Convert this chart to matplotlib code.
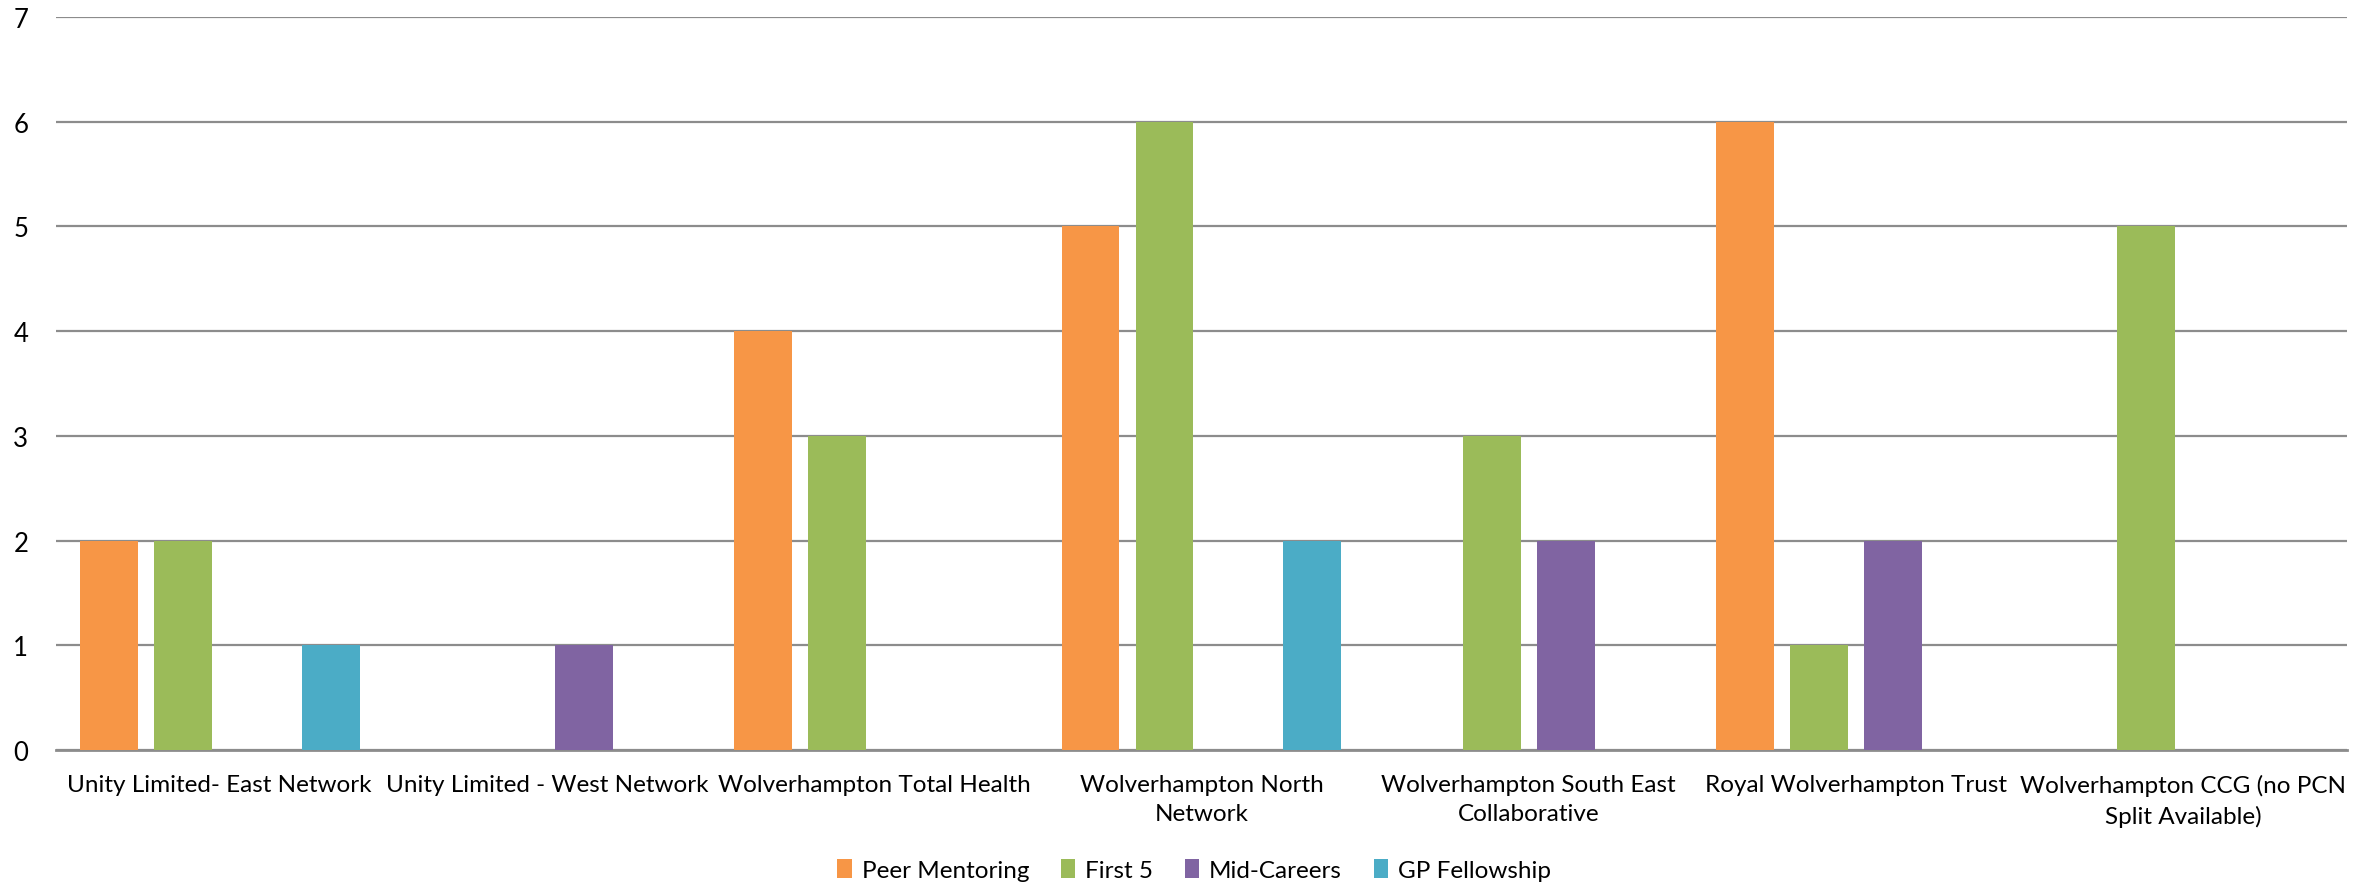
import numpy as np
import matplotlib
matplotlib.use("Agg")
import matplotlib.pyplot as plt

plt.rcParams['font.family'] = ['Lato', 'DejaVu Sans']

categories = [
    "Unity Limited- East Network",
    "Unity Limited - West Network",
    "Wolverhampton Total Health",
    "Wolverhampton North\nNetwork",
    "Wolverhampton South East\nCollaborative",
    "Royal Wolverhampton Trust",
    "Wolverhampton CCG (no PCN\nSplit Available)",
]
series_names = ["Peer Mentoring", "First 5", "Mid-Careers", "GP Fellowship"]
peer_mentoring = [2, 0, 4, 5, 0, 6, 0]
first_5 = [2, 0, 3, 6, 3, 1, 5]
mid_careers = [0, 1, 0, 0, 2, 2, 0]
gp_fellowship = [1, 0, 0, 2, 0, 0, 0]
colors = ["#F79646", "#9BBB59", "#8064A2", "#4BACC6"]

values = [peer_mentoring, first_5, mid_careers, gp_fellowship]

fig = plt.figure(figsize=(23.74, 8.87), dpi=100)
ax = fig.add_axes([0.0236, 0.153, 0.965, 0.827])

x = np.arange(len(categories))
bw = 0.177
step = 0.226
for i, (name, vals, c) in enumerate(zip(series_names, values, colors)):
    ax.bar(x + (i - 1.5) * step, vals, width=bw, color=c, label=name, zorder=3)

ax.set_xlim(-0.5, len(categories) - 0.5)
ax.set_ylim(0, 7)
ax.set_yticks(range(0, 8))
ax.yaxis.grid(True, color="#8C8C8C", linewidth=1.6, zorder=0)
ax.set_axisbelow(True)
for s in ["top", "right", "left"]:
    ax.spines[s].set_visible(False)
ax.spines["bottom"].set_color("#8C8C8C")
ax.spines["bottom"].set_linewidth(2)

ax.set_xticks(x)
ax.set_xticklabels(categories, fontsize=17.5, linespacing=1.5)
ax.tick_params(axis="x", length=0, pad=17)
ax.tick_params(axis="y", length=0, pad=20, labelsize=18.5)

fig.legend(loc="center", ncol=4, frameon=False, fontsize=17.5,
           bbox_to_anchor=(0.503, 0.018), handlelength=0.6, handleheight=0.8,
           handletextpad=0.4, columnspacing=1.3)

fig.savefig("out.png", dpi=100)
